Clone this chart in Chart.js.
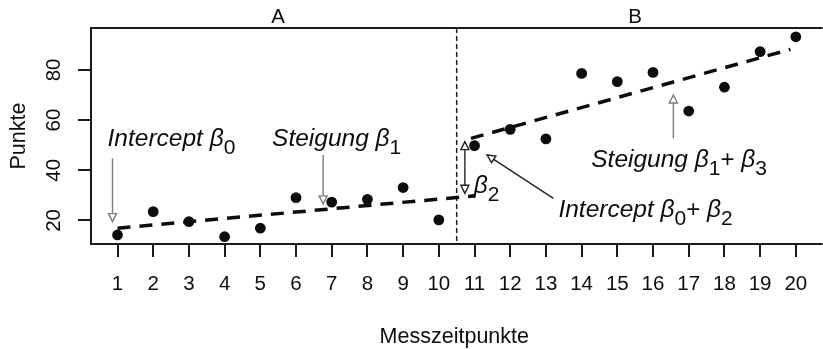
<!DOCTYPE html>
<html lang="de">
<head>
<meta charset="UTF-8">
<meta name="viewport" content="width=device-width, initial-scale=1.0">
<title>Punkte je Messzeitpunkt</title>
<script src="https://cdn.jsdelivr.net/npm/chart.js"></script>
<style>
  html, body { margin: 0; padding: 0; background: #fff; }
  #wrap { width: 823px; height: 349px; }
</style>
</head>
<body>
<div id="wrap"><canvas id="chart" width="823" height="349"></canvas></div>
<script>
// data
const messzeitpunkte = [1, 2, 3, 4, 5, 6, 7, 8, 9, 10, 11, 12, 13, 14, 15, 16, 17, 18, 19, 20];
const punkte = [14.2, 23.5, 19.5, 13.5, 16.9, 29.1, 27.3, 28.4, 33.1, 20.2,
                49.8, 56.3, 52.5, 78.6, 75.3, 79.0, 63.6, 73.1, 87.3, 93.2];
const phaseAx = [1, 11];
const phaseAy = [16.9, 29.8];
const phaseBx = [10.9, 19.85];
const phaseBy = [52.7, 88.2];
const phaseBreak = 10.5;
const phaseNames = ['A', 'B'];
const phaseCenters = [5.5, 15.5];
const xTicks = messzeitpunkte;
const yTicks = [20, 40, 60, 80];

const FONT = '"Liberation Sans", Arial, Helvetica, sans-serif';
const INK = '#0d0d0d';
const GREY = '#7d7d7d';

// annotations, placed in data units
const notes = [
  { x: 0.72, y: 49.6, parts: [['Intercept β', 'i'], ['0', 's']] },
  { x: 5.33, y: 49.7, parts: [['Steigung β', 'i'], ['1', 's']] },
  { x: 10.98, y: 31.0, parts: [['β', 'i'], ['2', 's']] },
  { x: 13.35, y: 21.5, parts: [['Intercept β', 'i'], ['0', 's'], ['+ ', 'n'], ['β', 'i'], ['2', 's']] },
  { x: 14.27, y: 41.4, parts: [['Steigung β', 'i'], ['1', 's'], ['+ ', 'n'], ['β', 'i'], ['3', 's']] }
];
const arrows = [
  { from: [0.86, 44.8], to: [0.86, 19.5], color: GREY },
  { from: [6.76, 46.1], to: [6.76, 26.6], color: GREY },
  { from: [10.73, 41.0], to: [10.73, 51.4], color: '#222' },
  { from: [10.73, 41.0], to: [10.73, 30.8], color: '#222' },
  { from: [13.21, 28.8], to: [11.35, 46.1], color: '#222' },
  { from: [16.57, 52.7], to: [16.57, 70.0], color: GREY }
];

function drawArrow(ctx, x1, y1, x2, y2, color) {
  const ang = Math.atan2(y2 - y1, x2 - x1);
  const len = 8, half = 4;
  const bx = x2 - len * Math.cos(ang), by = y2 - len * Math.sin(ang);
  ctx.strokeStyle = color;
  ctx.lineWidth = 1.4;
  ctx.setLineDash([]);
  ctx.beginPath();
  ctx.moveTo(x1, y1);
  ctx.lineTo(bx, by);
  ctx.stroke();
  ctx.beginPath();
  ctx.moveTo(x2, y2);
  ctx.lineTo(bx + half * Math.sin(ang), by - half * Math.cos(ang));
  ctx.lineTo(bx - half * Math.sin(ang), by + half * Math.cos(ang));
  ctx.closePath();
  ctx.fillStyle = '#fff';
  ctx.fill();
  ctx.stroke();
}

function drawNote(ctx, parts, x, y) {
  let cx = x;
  ctx.textAlign = 'left';
  ctx.textBaseline = 'alphabetic';
  ctx.fillStyle = INK;
  parts.forEach(([t, kind]) => {
    if (kind === 's') ctx.font = `21px ${FONT}`;
    else if (kind === 'i') ctx.font = `italic 24.5px ${FONT}`;
    else ctx.font = `24px ${FONT}`;
    ctx.fillText(t, cx, kind === 's' ? y + 8 : y);
    cx += ctx.measureText(t).width;
  });
}

const decor = {
  id: 'decor',
  beforeDatasetsDraw(chart) {
    const { ctx, chartArea: a, scales: { x } } = chart;
    ctx.save();
    // box (right side falls outside the picture)
    ctx.strokeStyle = '#1a1a1a';
    ctx.lineWidth = 2;
    ctx.beginPath();
    ctx.moveTo(a.right + 5, a.top);
    ctx.lineTo(a.left, a.top);
    ctx.lineTo(a.left, a.bottom);
    ctx.lineTo(a.right + 5, a.bottom);
    ctx.stroke();
    // phase break
    const bx = x.getPixelForValue(phaseBreak);
    ctx.lineWidth = 1.5;
    ctx.setLineDash([5, 3]);
    ctx.beginPath();
    ctx.moveTo(bx, a.top);
    ctx.lineTo(bx, a.bottom);
    ctx.stroke();
    ctx.restore();
  },
  afterDraw(chart) {
    const { ctx, chartArea: a, scales: { x, y } } = chart;
    ctx.save();
    ctx.fillStyle = INK;
    // phase names
    ctx.font = `20.5px ${FONT}`;
    ctx.textAlign = 'center';
    ctx.textBaseline = 'middle';
    phaseNames.forEach((n, i) => ctx.fillText(n, x.getPixelForValue(phaseCenters[i]), 17.5));
    // y tick labels, rotated like R
    yTicks.forEach(v => {
      ctx.save();
      ctx.translate(54, y.getPixelForValue(v));
      ctx.rotate(-Math.PI / 2);
      ctx.fillText(String(v), 0, 0);
      ctx.restore();
    });
    // axis titles
    ctx.font = `21.5px ${FONT}`;
    ctx.fillText('Messzeitpunkte', (a.left + a.right) / 2, 337.5);
    ctx.save();
    ctx.translate(19, (a.top + a.bottom) / 2);
    ctx.rotate(-Math.PI / 2);
    ctx.fillText('Punkte', 0, 0);
    ctx.restore();
    // arrows and labels
    arrows.forEach(ar => drawArrow(ctx,
      x.getPixelForValue(ar.from[0]), y.getPixelForValue(ar.from[1]),
      x.getPixelForValue(ar.to[0]), y.getPixelForValue(ar.to[1]), ar.color));
    notes.forEach(n => drawNote(ctx, n.parts, x.getPixelForValue(n.x), y.getPixelForValue(n.y)));
    ctx.restore();
  }
};

const toPts = (xs, ys) => xs.map((v, i) => ({ x: v, y: ys[i] }));

const ctx = document.getElementById('chart').getContext('2d');
const chart = new Chart(ctx, {
  type: 'scatter',
  data: {
    datasets: [
      {
        label: 'Punkte',
        data: toPts(messzeitpunkte, punkte),
        pointRadius: 5.4,
        pointBackgroundColor: INK,
        pointBorderWidth: 0,
        order: 0
      },
      {
        label: 'Phase A',
        data: toPts(phaseAx, phaseAy),
        showLine: true,
        pointRadius: 0,
        borderColor: INK,
        borderWidth: 3.5,
        borderDash: [13, 9],
        order: 1
      },
      {
        label: 'Phase B',
        data: toPts(phaseBx, phaseBy),
        showLine: true,
        pointRadius: 0,
        borderColor: INK,
        borderWidth: 3.5,
        borderDash: [13, 9],
        order: 1
      }
    ]
  },
  options: {
    responsive: false,
    animation: false,
    devicePixelRatio: 1,
    layout: { padding: { top: 28, left: 0, right: 0, bottom: 0 } },
    plugins: { legend: { display: false }, tooltip: { enabled: false } },
    scales: {
      x: {
        type: 'linear',
        min: 0.2575,
        max: 20.61,
        afterFit: s => { s.height = 105; },
        afterBuildTicks: s => { s.ticks = xTicks.map(v => ({ value: v })); },
        grid: { drawOnChartArea: false, drawTicks: true, tickLength: 13, color: '#1a1a1a', lineWidth: 2 },
        border: { display: false },
        ticks: {
          padding: 15,
          color: INK,
          font: { family: FONT, size: 20.5 },
          maxRotation: 0,
          autoSkip: false,
          callback: v => String(v)
        }
      },
      y: {
        type: 'linear',
        min: 10.6,
        max: 96.7,
        afterFit: s => { s.width = 91; },
        afterBuildTicks: s => { s.ticks = yTicks.map(v => ({ value: v })); },
        grid: { drawOnChartArea: false, drawTicks: true, tickLength: 13, color: '#1a1a1a', lineWidth: 2 },
        border: { display: false },
        ticks: { display: false }
      }
    }
  },
  plugins: [decor]
});
</script>
</body>
</html>
